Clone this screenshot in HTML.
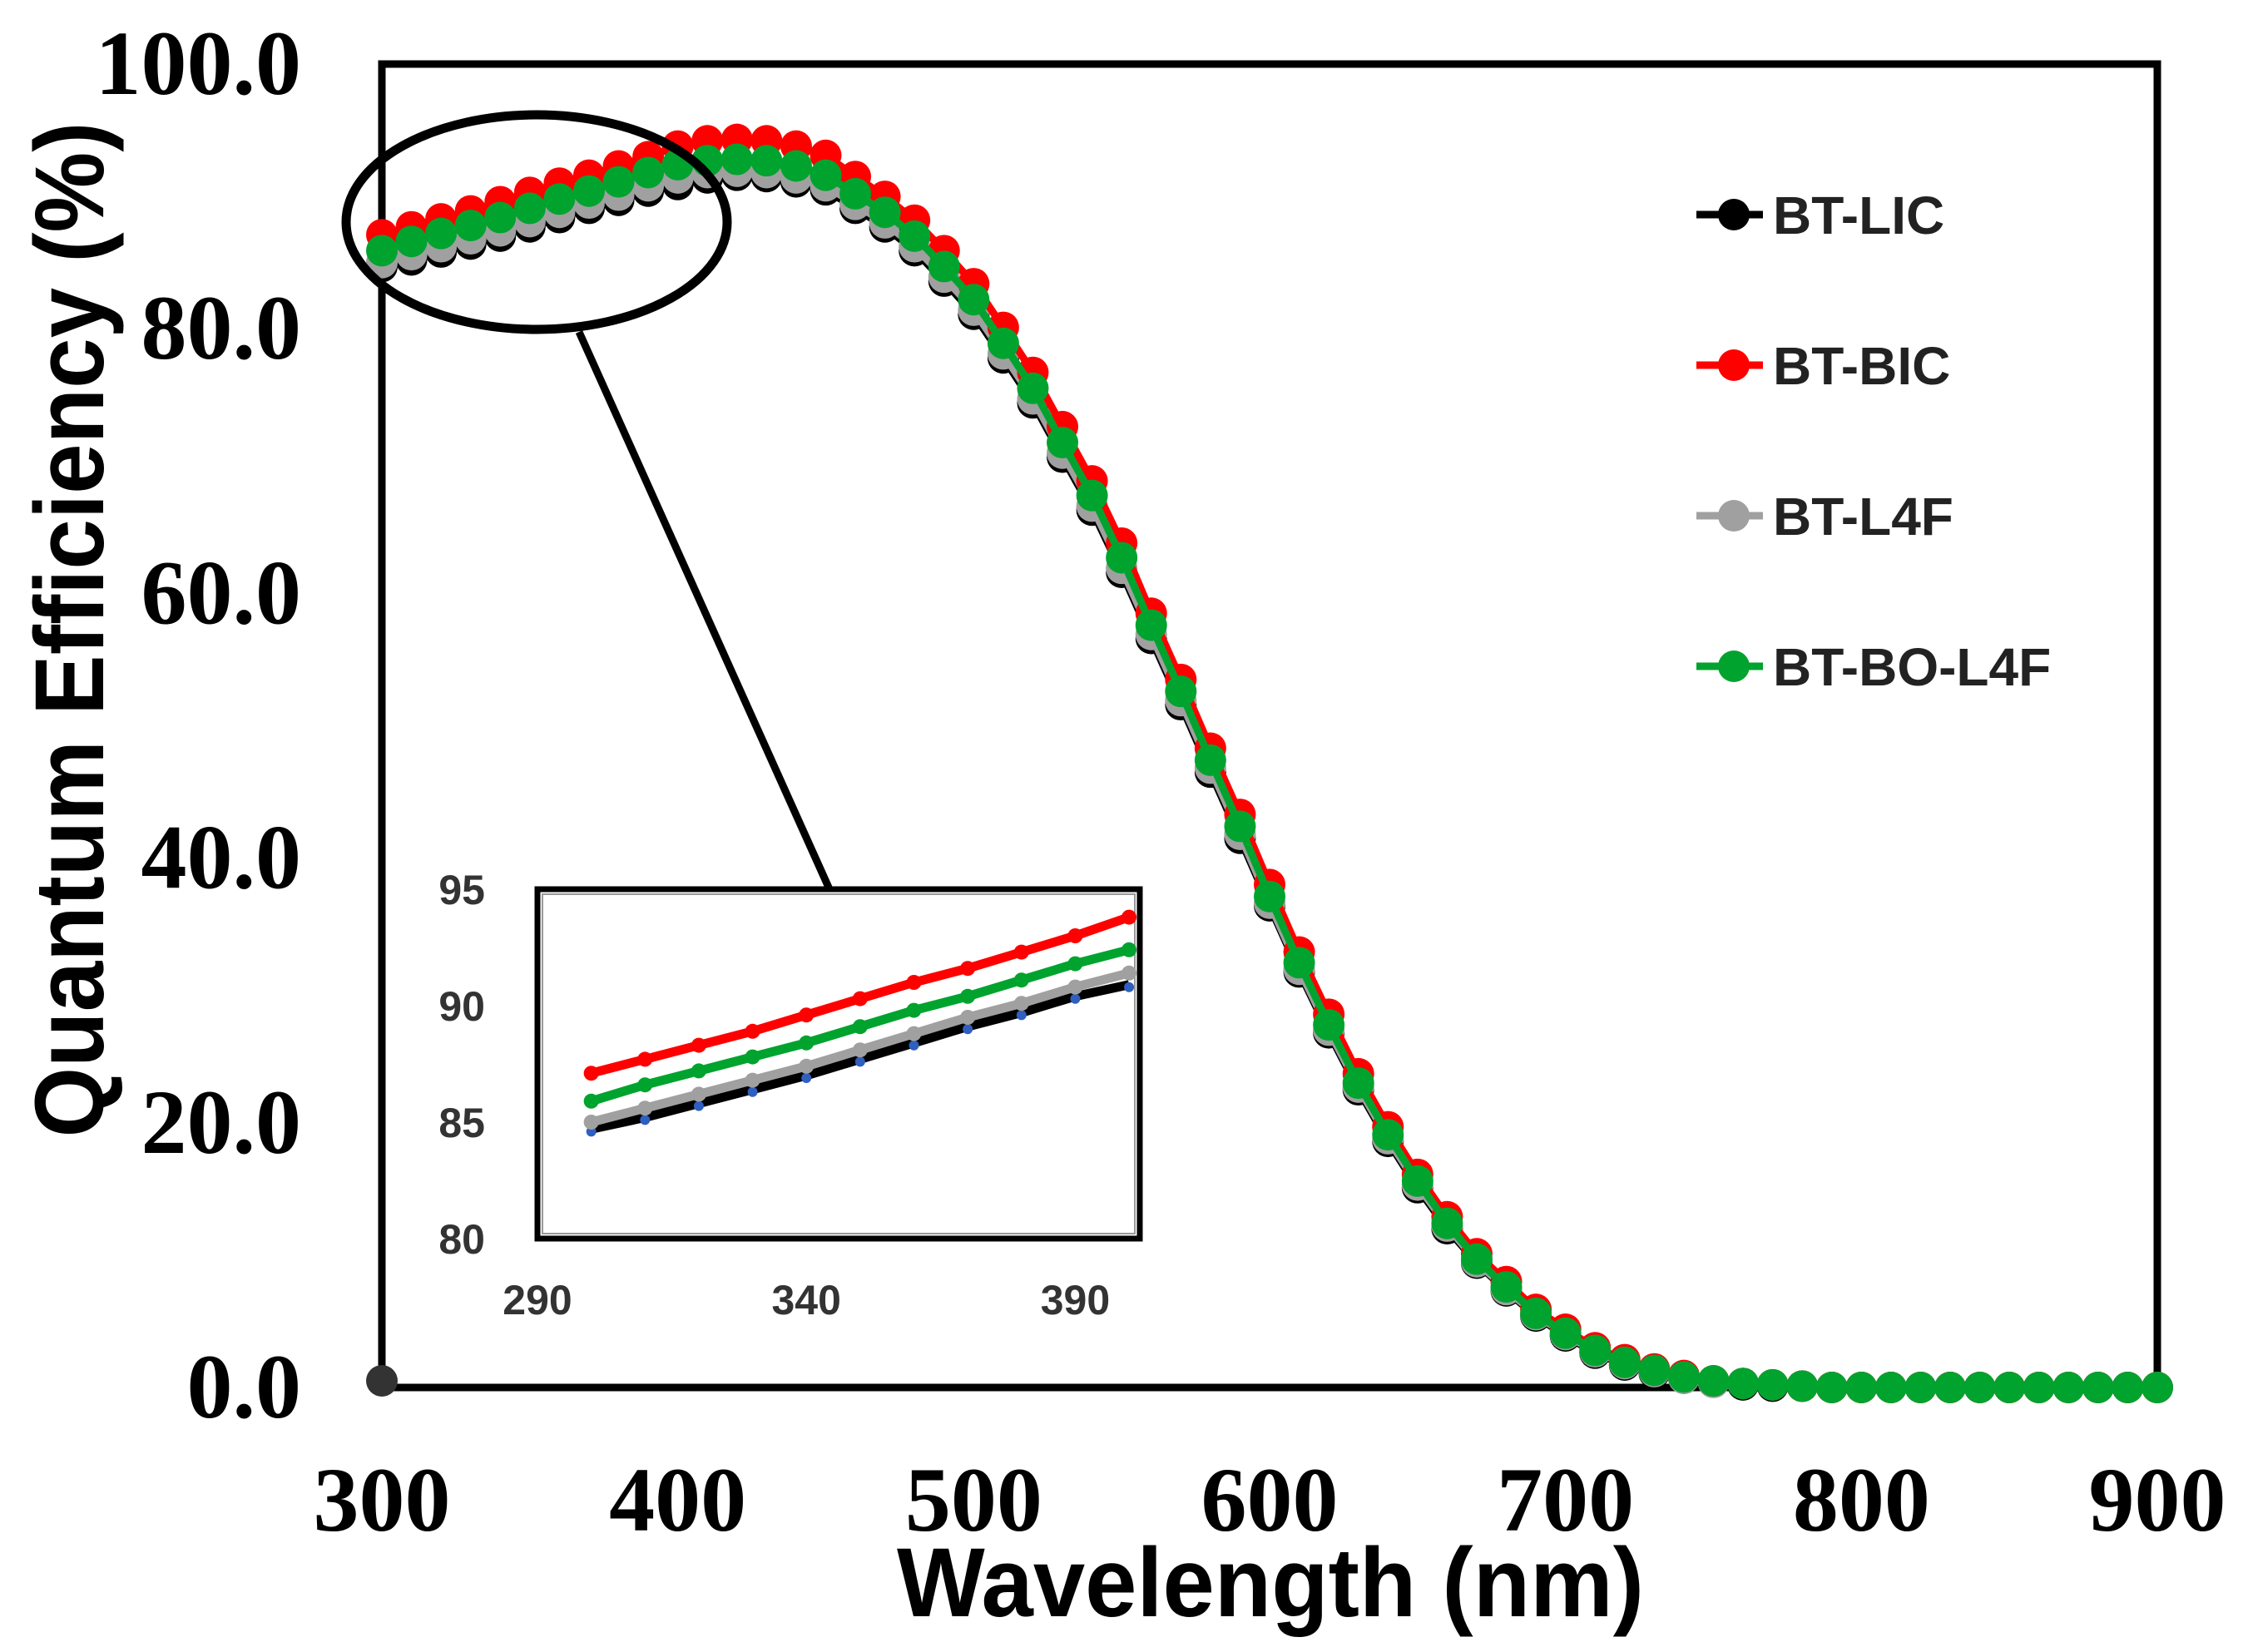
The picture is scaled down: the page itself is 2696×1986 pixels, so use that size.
<!DOCTYPE html>
<html><head><meta charset="utf-8"><style>
html,body{margin:0;padding:0;background:#fff;}
svg{display:block;}
</style></head><body>
<svg id="chart" width="2696" height="1986" viewBox="0 0 2696 1986" xmlns="http://www.w3.org/2000/svg">
<rect width="2696" height="1986" fill="#fff"/>
<g id="main"></g>
<g id="inset"></g>
</svg>
<script>
const wavelengths = [300,310,320,330,340,350,360,370,380,390,400,410,420,430,440,450,460,470,480,490,500,510,520,530,540,550,560,570,580,590,600,610,620,630,640,650,660,670,680,690,700,710,720,730,740,750,760,770,780,790,800,810,820,830,840,850,860,870,880,890,900];
const greenQE = [85.9,86.6,87.2,87.8,88.4,89.1,89.8,90.4,91.1,91.8,92.4,92.7,92.8,92.7,92.3,91.6,90.2,88.8,87.0,84.7,82.2,78.9,75.5,71.4,67.4,62.7,57.6,52.6,47.4,42.4,37.1,32.1,27.4,23.0,19.1,15.6,12.4,9.7,7.6,5.6,4.1,2.8,1.9,1.3,0.8,0.5,0.3,0.2,0.1,0,0,0,0,0,0,0,0,0,0,0,0];
const redQE = [87.1,87.7,88.3,88.9,89.6,90.3,91.0,91.6,92.3,93.0,93.8,94.2,94.3,94.2,93.8,93.1,91.5,90.0,88.2,85.9,83.4,80.1,76.7,72.6,68.5,63.8,58.5,53.5,48.3,43.3,38.0,32.9,28.2,23.7,19.7,16.1,12.9,10.1,8.0,5.9,4.4,3.0,2.1,1.4,0.9,0.5,0.3,0.2,0.1,0,0,0,0,0,0,0,0,0,0,0,0];
const grayQE = [85.0,85.6,86.2,86.8,87.4,88.1,88.8,89.5,90.1,90.8,91.4,91.8,91.9,91.8,91.4,90.8,89.4,88.0,86.2,83.9,81.4,78.1,74.7,70.6,66.6,61.9,56.9,51.9,46.8,41.8,36.6,31.6,27.0,22.7,18.8,15.3,12.2,9.5,7.4,5.5,4.0,2.7,1.8,1.2,0.7,0.4,0.3,0.2,0.1,0,0,0,0,0,0,0,0,0,0,0,0];
const blackQE = [84.7,85.2,85.8,86.4,87.0,87.7,88.4,89.1,89.7,90.4,90.9,91.4,91.6,91.5,91.1,90.5,89.1,87.7,85.9,83.6,81.1,77.8,74.4,70.3,66.3,61.6,56.6,51.6,46.5,41.5,36.4,31.4,26.8,22.5,18.6,15.1,12.0,9.4,7.3,5.4,3.9,2.6,1.7,1.1,0.7,0.4,0.2,0.1,0.1,0,0,0,0,0,0,0,0,0,0,0,0];
const yTicks = [0,20,40,60,80,100];
const yTickLabels = ["0.0","20.0","40.0","60.0","80.0","100.0"];
const xTicks = [300,400,500,600,700,800,900];
const insetXTicks = [290,340,390];
const insetYTicks = [80,85,90,95];
const seriesNames = ["BT-LIC","BT-BIC","BT-L4F","BT-BO-L4F"];

const NS="http://www.w3.org/2000/svg";
const X0=459,X1=2593,Y0=1668,Y1=77;
const X=w=>X0+(w-300)*(X1-X0)/600;
const Y=v=>Y0-v*(Y0-Y1)/100;
const IX0=646,IX1=1370,IY0=1489,IY1=1069;
const IX=w=>IX0+(w-290)*(IX1-IX0)/(402-290);
const IY=v=>IY0-(v-80)*(IY0-IY1)/15;
function el(tag,attrs,parent,text){const e=document.createElementNS(NS,tag);for(const k in attrs)e.setAttribute(k,attrs[k]);if(text!==undefined)e.textContent=text;parent.appendChild(e);return e;}
const main=document.getElementById('main');
const inset=document.getElementById('inset');

const frame=el('rect',{x:X0,y:Y1,width:X1-X0,height:Y0-Y1,fill:'none',stroke:'#000','stroke-width':9},main);



yTicks.forEach((t,i)=>{
  const tx=el('text',{x:362,y:Y(t)+36,'text-anchor':'end','font-family':'Liberation Serif, serif','font-weight':'bold','font-size':110,fill:'#000'},main,yTickLabels[i]);
  
  
});
xTicks.forEach(t=>{
  const tx=el('text',{x:X(t),y:1840,'text-anchor':'middle','font-family':'Liberation Serif, serif','font-weight':'bold','font-size':110,fill:'#000'},main,String(t));
  
  
});
const xt=el('text',{x:1527,y:1943,'text-anchor':'middle','font-family':'Liberation Sans, sans-serif','font-weight':'bold','font-size':118,fill:'#000',textLength:898,lengthAdjust:'spacingAndGlyphs'},main,'Wavelength (nm)');


const yt=el('text',{x:0,y:0,'text-anchor':'middle','font-family':'Liberation Sans, sans-serif','font-weight':'bold','font-size':118,fill:'#000',textLength:1221,lengthAdjust:'spacingAndGlyphs',transform:'translate(124,757) rotate(-90)'},main,'Quantum Efficiency (%)');



const series=[
 {name:'bt-lic',vals:blackQE,color:'#000'},
 {name:'bt-l4f',vals:grayQE,color:'#a0a0a0'},
 {name:'bt-bic',vals:redQE,color:'#ff0000'},
 {name:'bt-bo-l4f',vals:greenQE,color:'#00a32e'}
];
series.forEach(s=>{
  const g=el('g',{},main);
  
  
  const d=wavelengths.map((w,i)=>(i?'L':'M')+X(w).toFixed(1)+' '+Y(s.vals[i]).toFixed(1)).join(' ');
  el('path',{d:d,fill:'none',stroke:s.color,'stroke-width':9},g);
  wavelengths.forEach((w,i)=>{
    const c=el('circle',{cx:X(w),cy:Y(s.vals[i]),r:19,fill:s.color},g);
    
    
  });
});
const stray=el('circle',{cx:X(300),cy:Y(0)-8,r:19,fill:'#333'},main);



const ell=el('ellipse',{cx:645,cy:267,rx:229,ry:129,fill:'none',stroke:'#000','stroke-width':11},main);


const con=el('line',{x1:696,y1:399,x2:997,y2:1069,stroke:'#000','stroke-width':9},main);



const legColors=['#000','#ff0000','#a0a0a0','#00a32e'];
seriesNames.forEach((n,i)=>{
  const y=258+i*181;
  const g=el('g',{},main);
  
  
  el('line',{x1:2039,y1:y,x2:2119,y2:y,stroke:legColors[i],'stroke-width':9},g);
  el('circle',{cx:2084,cy:y,r:19,fill:legColors[i]},g);
  el('text',{x:2131,y:y+23,'font-family':'Liberation Sans, sans-serif','font-weight':'bold','font-size':64,fill:'#222'},g,n);
});

const ibg=el('rect',{x:IX0,y:IY1,width:IX1-IX0,height:IY0-IY1,fill:'#fff',stroke:'#000','stroke-width':7},inset);


el('rect',{x:IX0+6,y:IY1+6,width:IX1-IX0-12,height:IY0-IY1-12,fill:'none',stroke:'#999','stroke-width':2},inset);
insetYTicks.forEach(t=>{
  const tx=el('text',{x:583,y:IY(t)+18,'text-anchor':'end','font-family':'Liberation Sans, sans-serif','font-weight':'bold','font-size':50,fill:'#333'},inset,String(t));
  
  
});
insetXTicks.forEach(t=>{
  const tx=el('text',{x:IX(t),y:1580,'text-anchor':'middle','font-family':'Liberation Sans, sans-serif','font-weight':'bold','font-size':50,fill:'#333'},inset,String(t));
  
  
});
const insetSeries=[
 {name:'bt-lic',vals:blackQE,color:'#000',mk:'#2f5fbf'},
 {name:'bt-l4f',vals:grayQE,color:'#a0a0a0',mk:'#a0a0a0'},
 {name:'bt-bo-l4f',vals:greenQE,color:'#00a32e',mk:'#00a32e'},
 {name:'bt-bic',vals:redQE,color:'#ff0000',mk:'#ff0000'}
];
insetSeries.forEach(s=>{
  const g=el('g',{},inset);
  
  
  const idx=wavelengths.map((w,i)=>i).filter(i=>wavelengths[i]<=400);
  const d=idx.map((i,k)=>(k?'L':'M')+IX(wavelengths[i]).toFixed(1)+' '+IY(s.vals[i]).toFixed(1)).join(' ');
  el('path',{d:d,fill:'none',stroke:s.color,'stroke-width':11},g);
  idx.forEach(i=>{
    const c=el('circle',{cx:IX(wavelengths[i]),cy:IY(s.vals[i])+(s.name==='bt-lic'?3:0),r:s.name==='bt-lic'?6:9,fill:s.mk},g);
    
    
  });
});
</script>
</body></html>
